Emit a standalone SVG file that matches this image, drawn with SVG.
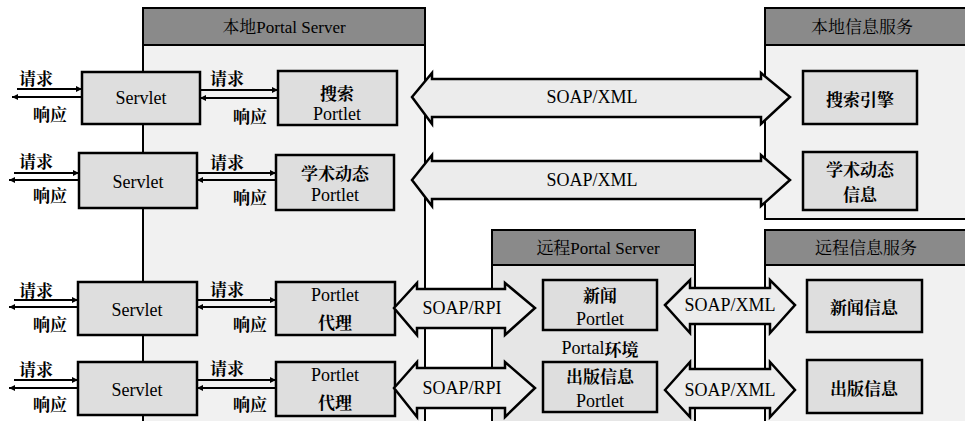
<svg xmlns="http://www.w3.org/2000/svg" width="965" height="421" viewBox="0 0 965 421">
<defs>
<marker id="ah" viewBox="0 0 10 10" refX="10" refY="5" markerWidth="9" markerHeight="6" markerUnits="userSpaceOnUse" orient="auto"><path d="M0,0 L10,5 L0,10 z" fill="#000"/></marker>
</defs>
<style>
.body{fill:#f1f1f1;stroke:#000;stroke-width:2}
.rbody{fill:#e6e6e6;stroke:#000;stroke-width:2}
.hdr{fill:#8a8a8a;stroke:#000;stroke-width:2}
.box{fill:#dedede;stroke:#000;stroke-width:2.5}
.dbl{fill:#ececec;stroke:#000;stroke-width:2.5;stroke-linejoin:miter}
.ln{stroke:#000;stroke-width:2;fill:none;marker-end:url(#ah)}
text{font-family:"Liberation Serif","Times New Roman",Tinos,"DejaVu Serif","Noto Serif CJK SC","Noto Sans CJK SC",serif;font-size:18px;fill:#000;text-anchor:middle;dominant-baseline:central}
.cn{font-family:"Noto Serif CJK SC","Noto Sans CJK SC","Liberation Serif",serif;font-weight:bold;font-size:17px}
.h{font-size:17px}
</style>
<rect width="965" height="421" fill="#fff"/>

<g id="local-portal-server">
<rect class="body" x="143" y="8" width="282" height="420"/>
<rect class="hdr" x="143" y="8" width="282" height="37"/>
<text class="h" x="284" y="27">本地Portal Server</text>
</g>
<g id="local-info-service">
<rect class="body" x="765" y="8" width="210" height="211"/>
<rect class="hdr" x="765" y="8" width="210" height="37"/>
<text class="h" x="862" y="27">本地信息服务</text>
</g>
<g id="remote-portal-server">
<rect class="rbody" x="492" y="230" width="203" height="200"/>
<rect class="hdr" x="492" y="230" width="203" height="35"/>
<text class="h" x="598" y="248">远程Portal Server</text>
<text x="600" y="348">Portal<tspan class="cn">环境</tspan></text>
</g>
<g id="remote-info-service">
<rect class="body" x="765" y="230" width="210" height="200"/>
<rect class="hdr" x="765" y="230" width="210" height="35"/>
<text class="h" x="866" y="248">远程信息服务</text>
</g>

<g id="servlet1"><rect class="box" x="82" y="72" width="118" height="52"/><text x="141" y="98">Servlet</text></g>
<g id="servlet2"><rect class="box" x="79" y="153" width="118" height="55"/><text x="138" y="182">Servlet</text></g>
<g id="servlet3"><rect class="box" x="78" y="282" width="119" height="53"/><text x="137" y="310">Servlet</text></g>
<g id="servlet4"><rect class="box" x="78" y="362" width="119" height="53"/><text x="137" y="390">Servlet</text></g>

<g id="search-portlet"><rect class="box" x="278" y="71" width="119" height="54"/><text class="cn" x="337" y="92">搜索</text><text x="337" y="114">Portlet</text></g>
<g id="academic-portlet"><rect class="box" x="276" y="155" width="118" height="55"/><text class="cn" x="335" y="172">学术动态</text><text x="335" y="195">Portlet</text></g>
<g id="portlet-proxy1"><rect class="box" x="276" y="282" width="119" height="53"/><text x="335" y="295">Portlet</text><text class="cn" x="335" y="321">代理</text></g>
<g id="portlet-proxy2"><rect class="box" x="276" y="362" width="119" height="54"/><text x="335" y="375">Portlet</text><text class="cn" x="335" y="401">代理</text></g>

<g id="search-engine"><rect class="box" x="803" y="71" width="114" height="53"/><text class="cn" x="860" y="98">搜索引擎</text></g>
<g id="academic-info"><rect class="box" x="803" y="152" width="114" height="58"/><text class="cn" x="860" y="168">学术动态</text><text class="cn" x="860" y="193">信息</text></g>
<g id="news-portlet"><rect class="box" x="543" y="280" width="114" height="50"/><text class="cn" x="600" y="294">新闻</text><text x="600" y="319">Portlet</text></g>
<g id="publish-portlet"><rect class="box" x="543" y="362" width="114" height="50"/><text class="cn" x="600" y="375">出版信息</text><text x="600" y="401">Portlet</text></g>
<g id="news-info"><rect class="box" x="807" y="280" width="115" height="52"/><text class="cn" x="864" y="306">新闻信息</text></g>
<g id="publish-info"><rect class="box" x="807" y="360" width="115" height="53"/><text class="cn" x="864" y="387">出版信息</text></g>

<g id="connectors">
<polygon class="dbl" points="412,97 432,73 432,79 761,79 761,73 790,97 761,124 761,117 432,117 432,124"/>
<text x="592" y="97">SOAP/XML</text>
<polygon class="dbl" points="412,180 432,155 432,161 761,161 761,155 790,180 761,206 761,199 432,199 432,206"/>
<text x="592" y="180">SOAP/XML</text>
<polygon class="dbl" points="394,308 417,283 417,289 505,289 505,283 535,308 505,335 505,328 417,328 417,335"/>
<text x="462" y="308">SOAP/RPI</text>
<polygon class="dbl" points="394,388 417,362 417,368 505,368 505,362 535,388 505,417 505,408 417,408 417,417"/>
<text x="462" y="388">SOAP/RPI</text>
<polygon class="dbl" points="665,305 690,280 690,288 770,288 770,280 795,305 770,333 770,324 690,324 690,333"/>
<text x="730" y="305">SOAP/XML</text>
<polygon class="dbl" points="665,390 690,362 690,369 770,369 770,362 795,390 770,417 770,408 690,408 690,417"/>
<text x="730" y="390">SOAP/XML</text>

<line class="ln" x1="17" y1="89" x2="82" y2="89"/><line class="ln" x1="82" y1="97" x2="12" y2="97"/>
<line class="ln" x1="200" y1="90" x2="278" y2="90"/><line class="ln" x1="278" y1="98" x2="200" y2="98"/>
<line class="ln" x1="14" y1="173" x2="79" y2="173"/><line class="ln" x1="79" y1="180" x2="9" y2="180"/>
<line class="ln" x1="197" y1="173" x2="276" y2="173"/><line class="ln" x1="276" y1="180" x2="197" y2="180"/>
<line class="ln" x1="14" y1="300" x2="78" y2="300"/><line class="ln" x1="78" y1="307" x2="9" y2="307"/>
<line class="ln" x1="197" y1="300" x2="276" y2="300"/><line class="ln" x1="276" y1="307" x2="197" y2="307"/>
<line class="ln" x1="14" y1="380" x2="78" y2="380"/><line class="ln" x1="78" y1="388" x2="9" y2="388"/>
<line class="ln" x1="197" y1="380" x2="276" y2="380"/><line class="ln" x1="276" y1="388" x2="197" y2="388"/>

<text class="cn" x="36" y="77">请求</text><text class="cn" x="50" y="113">响应</text>
<text class="cn" x="227" y="77">请求</text><text class="cn" x="250" y="115">响应</text>
<text class="cn" x="36" y="160">请求</text><text class="cn" x="50" y="194">响应</text>
<text class="cn" x="227" y="161">请求</text><text class="cn" x="250" y="196">响应</text>
<text class="cn" x="36" y="289">请求</text><text class="cn" x="50" y="323">响应</text>
<text class="cn" x="227" y="288">请求</text><text class="cn" x="250" y="323">响应</text>
<text class="cn" x="36" y="368">请求</text><text class="cn" x="50" y="403">响应</text>
<text class="cn" x="227" y="367">请求</text><text class="cn" x="250" y="403">响应</text>
</g>
</svg>
